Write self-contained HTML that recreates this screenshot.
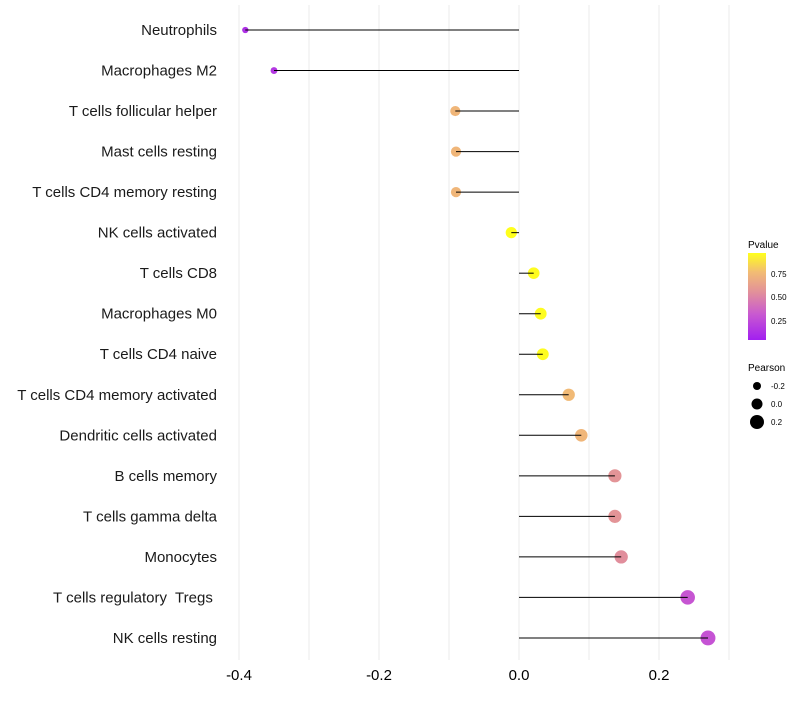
<!DOCTYPE html>
<html><head><meta charset="utf-8"><style>
body{margin:0;background:#fff;font-family:"Liberation Sans",sans-serif}
text{white-space:pre}
</style></head><body>
<svg id="c" width="800" height="700" xmlns="http://www.w3.org/2000/svg">
<defs><linearGradient id="pg" x1="0" y1="1" x2="0" y2="0">
<stop offset="0" stop-color="#a21ff0"/><stop offset="0.3" stop-color="#c95ad0"/><stop offset="0.55" stop-color="#e2909a"/><stop offset="0.78" stop-color="#f2bc74"/><stop offset="1" stop-color="#ffff1c"/></linearGradient></defs>
<g id="grid"></g><g id="marks"></g><g id="labels"></g><g id="legend"></g>
</svg>
<script>
const categories=["Neutrophils","Macrophages M2","T cells follicular helper","Mast cells resting","T cells CD4 memory resting","NK cells activated","T cells CD8","Macrophages M0","T cells CD4 naive","T cells CD4 memory activated","Dendritic cells activated","B cells memory","T cells gamma delta","Monocytes","T cells regulatory  Tregs ","NK cells resting"];
const pearson=[-0.391,-0.35,-0.091,-0.09,-0.09,-0.011,0.021,0.031,0.034,0.071,0.089,0.137,0.137,0.146,0.241,0.27];
const pvalues=[0.12,0.15,0.72,0.72,0.72,0.96,0.95,0.95,0.95,0.74,0.72,0.55,0.55,0.52,0.28,0.27];
const xTicks=[-0.4,-0.2,0.0,0.2];
const xMinor=[-0.3,-0.1,0.1,0.3];
const xTickLabels=["-0.4","-0.2","0.0","0.2"];
const NS="http://www.w3.org/2000/svg";
const X=v=>519+v*700;
const Y=i=>30+i*40.53;
const R=v=>5.7+6.5*v;
function lerp(a,b,t){return a.map((x,i)=>Math.round(x+(b[i]-x)*t));}
const stops=[[0.04,[162,31,240]],[0.3,[201,90,208]],[0.53,[226,144,154]],[0.75,[242,188,116]],[0.96,[255,255,28]]];
function col(p){p=Math.max(0.04,Math.min(0.96,p));for(let i=0;i<stops.length-1;i++){if(p<=stops[i+1][0]){const t=(p-stops[i][0])/(stops[i+1][0]-stops[i][0]);const c=lerp(stops[i][1],stops[i+1][1],t);return `rgb(${c})`;}}return "rgb(255,255,28)";}
function mk(t,a,parent){const e=document.createElementNS(NS,t);for(const k in a)e.setAttribute(k,a[k]);document.getElementById(parent).appendChild(e);return e;}
xTicks.concat(xMinor).forEach(v=>{const l=mk("line",{x1:X(v),x2:X(v),y1:5,y2:660,stroke:"#ebebeb","stroke-width":1},"grid");

});
xTicks.forEach((v,i)=>{const t=mk("text",{x:X(v),y:680,"text-anchor":"middle","font-size":15,fill:"#000"},"labels");t.textContent=xTickLabels[i];

});
categories.forEach((c,i)=>{
const y=Y(i);
const t=mk("text",{x:217,y:y+5,"text-anchor":"end","font-size":15,fill:"#1a1a1a"},"labels");t.textContent=c;


const ci=mk("circle",{cx:X(pearson[i]),cy:y,r:R(pearson[i]),fill:col(pvalues[i])},"marks");


const l=mk("line",{x1:X(0),x2:X(pearson[i]),y1:y,y2:y,stroke:"#000","stroke-width":1},"marks");


});
const lg=[["text",{x:748,y:248,"font-size":10},"Pvalue"],["rect",{x:748,y:253,width:18,height:87,fill:"url(#pg)"},null],
["text",{x:771,y:277,"font-size":8},"0.75"],["text",{x:771,y:300,"font-size":8},"0.50"],["text",{x:771,y:324,"font-size":8},"0.25"],
["text",{x:748,y:371,"font-size":10},"Pearson"],
["circle",{cx:757,cy:386,r:4},null],["circle",{cx:757,cy:404,r:5.5},null],["circle",{cx:757,cy:422,r:7},null],
["text",{x:771,y:389,"font-size":8},"-0.2"],["text",{x:771,y:407,"font-size":8},"0.0"],["text",{x:771,y:425,"font-size":8},"0.2"]];
lg.forEach(d=>{const e=mk(d[0],d[1],"legend");if(d[2])e.textContent=d[2];

});
</script>
</body></html>
